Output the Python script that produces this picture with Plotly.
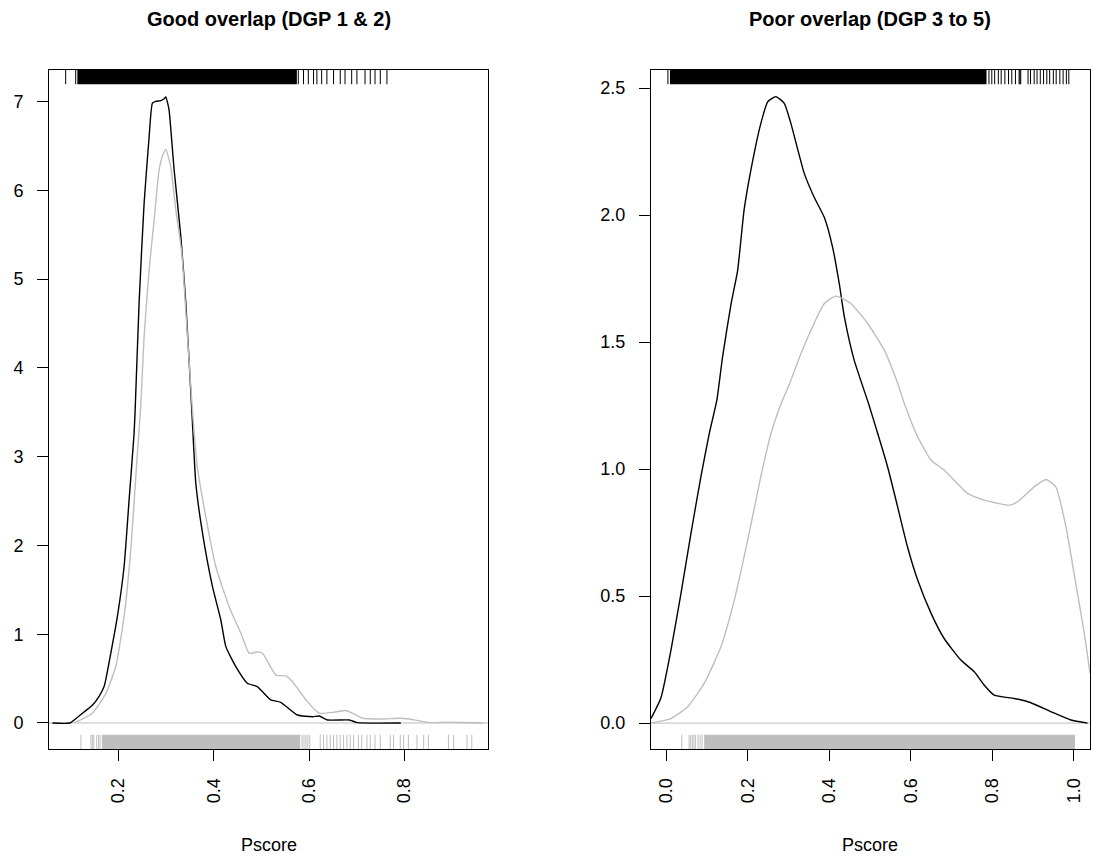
import plotly.graph_objects as go

# ---------------- data ----------------
# Left panel: Good overlap (DGP 1 & 2)
good_black_x = [0.061, 0.0976, 0.124, 0.145, 0.159, 0.1696, 0.1836, 0.1975, 0.2115, 0.222, 0.2325, 0.2347,
                0.243, 0.2535, 0.264, 0.271, 0.278, 0.2885, 0.2955, 0.299, 0.302, 0.306, 0.3165, 0.3305,
                0.341, 0.3536, 0.362, 0.376, 0.397, 0.4145, 0.425, 0.446, 0.470, 0.491, 0.519, 0.540,
                0.575, 0.607, 0.621, 0.638, 0.684, 0.701, 0.792]
good_black_y = [0.0, 0.0, 0.11, 0.20, 0.30, 0.41, 0.785, 1.20, 1.76, 2.51, 3.26, 3.52,
                4.73, 5.85, 6.60, 6.98, 7.00, 7.01, 7.03, 7.05, 7.00, 6.90, 6.23, 5.48,
                4.73, 3.52, 2.70, 2.14, 1.535, 1.16, 0.86, 0.634, 0.447, 0.41, 0.26, 0.233,
                0.09, 0.071, 0.079, 0.034, 0.034, 0.004, 0.0]

good_gray_x = [0.107, 0.145, 0.173, 0.194, 0.2115, 0.2256, 0.2375, 0.2466, 0.2535, 0.264, 0.2745, 0.285,
               0.293, 0.299, 0.3095, 0.320, 0.3326, 0.3445, 0.355, 0.365, 0.383, 0.404, 0.432, 0.4565,
               0.474, 0.491, 0.502, 0.530, 0.551, 0.565, 0.593, 0.621, 0.649, 0.677, 0.6907, 0.7117,
               0.7536, 0.789, 0.81, 0.852, 0.887, 0.9496, 0.965]
good_gray_y = [0.0, 0.11, 0.33, 0.634, 1.20, 1.95, 2.89, 3.58, 4.35, 5.10, 5.66, 6.23,
               6.40, 6.46, 6.26, 5.78, 5.29, 4.35, 3.52, 2.89, 2.32, 1.76, 1.31, 1.01,
               0.785, 0.80, 0.785, 0.54, 0.53, 0.465, 0.26, 0.11, 0.12, 0.14, 0.11, 0.053,
               0.045, 0.053, 0.045, 0.004, 0.008, 0.003, 0.0]

# Right panel: Poor overlap (DGP 3 to 5)
poor_black_x = [-0.0375, -0.013, 0.0115, 0.036, 0.0606, 0.085, 0.1055, 0.124, 0.138, 0.159, 0.175, 0.191,
                0.208, 0.232, 0.249, 0.269, 0.2896, 0.306, 0.3387, 0.363, 0.388, 0.408, 0.4246, 0.437,
                0.461, 0.496, 0.519, 0.543, 0.568, 0.592, 0.617, 0.650, 0.682, 0.723, 0.756, 0.780,
                0.805, 0.854, 0.895, 0.944, 0.993, 1.034]
poor_black_y = [0.018, 0.10, 0.287, 0.51, 0.747, 0.97, 1.14, 1.27, 1.44, 1.65, 1.78, 2.02,
                2.18, 2.36, 2.446, 2.466, 2.44, 2.36, 2.164, 2.07, 1.99, 1.875, 1.73, 1.60,
                1.43, 1.26, 1.14, 1.01, 0.85, 0.694, 0.563, 0.432, 0.333, 0.248, 0.202, 0.15,
                0.11, 0.097, 0.08, 0.045, 0.012, 0.0]

poor_gray_x = [-0.0375, 0.0115, 0.0525, 0.093, 0.134, 0.167, 0.1998, 0.232, 0.257, 0.28, 0.306, 0.3306,
               0.363, 0.388, 0.4165, 0.453, 0.494, 0.535, 0.568, 0.586, 0.617, 0.650, 0.682, 0.7396,
               0.780, 0.842, 0.862, 0.903, 0.932, 0.956, 0.981, 1.005, 1.026, 1.040]
poor_gray_y = [0.0, 0.018, 0.064, 0.156, 0.30, 0.484, 0.72, 0.97, 1.14, 1.25, 1.35, 1.455,
               1.574, 1.652, 1.681, 1.652, 1.574, 1.468, 1.337, 1.25, 1.127, 1.035, 0.996, 0.904,
               0.878, 0.858, 0.871, 0.93, 0.959, 0.93, 0.773, 0.55, 0.353, 0.196]

# Rugs: individual ticks plus spans too dense to separate
good_top_ticks = [0.089, 0.110, 0.577, 0.588, 0.598, 0.609, 0.616, 0.626, 0.637, 0.651, 0.665,
                  0.675, 0.689, 0.700, 0.717, 0.728, 0.738, 0.749, 0.763]
good_top_dense = [(0.1135, 0.574)]
good_bottom_ticks = [0.121, 0.142, 0.145, 0.148, 0.154, 0.158, 0.161, 0.585, 0.589, 0.593, 0.597,
                     0.601, 0.623, 0.630, 0.637, 0.644, 0.651, 0.658, 0.665, 0.672, 0.679, 0.686,
                     0.693, 0.703, 0.710, 0.721, 0.728, 0.738, 0.749, 0.770, 0.777, 0.791, 0.798,
                     0.808, 0.826, 0.840, 0.850, 0.892, 0.903, 0.931, 0.941]
good_bottom_dense = [(0.165, 0.581)]

poor_top_ticks = [0.004, 0.792, 0.799, 0.806, 0.815, 0.822, 0.831, 0.840, 0.848, 0.857, 0.866,
                  0.868, 0.870, 0.888, 0.894, 0.903, 0.910, 0.918, 0.926, 0.934, 0.941, 0.950,
                  0.957, 0.966, 0.974, 0.982, 0.988]
poor_top_dense = [(0.009, 0.786)]
poor_bottom_ticks = [0.038, 0.056, 0.060, 0.064, 0.068, 0.072, 0.078, 0.083, 0.088]
poor_bottom_dense = [(0.093, 1.003)]

titles = ["Good overlap (DGP 1 & 2)", "Poor overlap (DGP 3 to 5)"]
x_label = "Pscore"
good_xticks = [0.2, 0.4, 0.6, 0.8]
good_yticks = [0, 1, 2, 3, 4, 5, 6, 7]
poor_xticks = [0.0, 0.2, 0.4, 0.6, 0.8, 1.0]
poor_yticks = [0.0, 0.5, 1.0, 1.5, 2.0, 2.5]

# ---------------- styling ----------------
BLACK = "#000000"
GRAY = "#BEBEBE"
FONT = "Liberation Sans, Arial, Helvetica, sans-serif"
W, H = 1094, 858
RUG_LEN = 0.021  # fraction of plot height

fig = go.Figure()

line_kw = dict(width=1.4, shape="spline", smoothing=0.5)
fig.add_trace(go.Scatter(x=good_black_x, y=good_black_y, mode="lines",
                         line=dict(color=BLACK, **line_kw), xaxis="x", yaxis="y"))
fig.add_trace(go.Scatter(x=good_gray_x, y=good_gray_y, mode="lines",
                         line=dict(color=GRAY, **line_kw), xaxis="x", yaxis="y"))
fig.add_trace(go.Scatter(x=poor_black_x, y=poor_black_y, mode="lines",
                         line=dict(color=BLACK, **line_kw), xaxis="x2", yaxis="y2"))
fig.add_trace(go.Scatter(x=poor_gray_x, y=poor_gray_y, mode="lines",
                         line=dict(color=GRAY, **line_kw), xaxis="x2", yaxis="y2"))

shapes = []


def rug(ticks, dense, xref, yref, top, color):
    ya, yb = (1 - RUG_LEN, 1) if top else (0, RUG_LEN)
    for t in ticks:
        shapes.append(dict(type="line", xref=xref, yref=yref + " domain", x0=t, x1=t,
                           y0=ya, y1=yb, line=dict(color=color, width=1)))
    for a, b in dense:
        shapes.append(dict(type="rect", xref=xref, yref=yref + " domain", x0=a, x1=b,
                           y0=ya, y1=yb, fillcolor=color, line=dict(width=0)))


for xr, yr in (("x", "y"), ("x2", "y2")):
    shapes.append(dict(type="line", xref=xr + " domain", yref=yr, x0=0, x1=1, y0=0, y1=0,
                       line=dict(color=GRAY, width=1), layer="below"))

rug(good_top_ticks, good_top_dense, "x", "y", True, BLACK)
rug(good_bottom_ticks, good_bottom_dense, "x", "y", False, GRAY)
rug(poor_top_ticks, poor_top_dense, "x2", "y2", True, BLACK)
rug(poor_bottom_ticks, poor_bottom_dense, "x2", "y2", False, GRAY)

left_dom = [49 / W, 488 / W]
right_dom = [651 / W, 1090 / W]
y_dom = [(H - 749) / H, (H - 70) / H]

axis_common = dict(showgrid=False, zeroline=False, showline=True, mirror=True,
                   linecolor=BLACK, linewidth=1, ticks="outside", ticklen=11,
                   tickwidth=1, tickcolor=BLACK, ticklabelstandoff=10,
                   tickfont=dict(family=FONT, size=18, color=BLACK))

title_font = dict(family=FONT, size=20, color=BLACK)
label_font = dict(family=FONT, size=18, color=BLACK)

fig.update_layout(
    width=W, height=H, margin=dict(l=0, r=0, t=0, b=0),
    paper_bgcolor="white", plot_bgcolor="white", showlegend=False,
    font=dict(family=FONT, color=BLACK),
    xaxis=dict(domain=left_dom, range=[0.054, 0.975], anchor="y",
               tickvals=good_xticks, ticktext=[f"{v:.1f}" for v in good_xticks],
               tickangle=-90, **axis_common),
    yaxis=dict(domain=y_dom, range=[-0.293, 7.354], anchor="x",
               tickvals=good_yticks, ticktext=[str(v) for v in good_yticks], **axis_common),
    xaxis2=dict(domain=right_dom, range=[-0.0375, 1.04], anchor="y2",
                tickvals=poor_xticks, ticktext=[f"{v:.1f}" for v in poor_xticks],
                tickangle=-90, **axis_common),
    yaxis2=dict(domain=y_dom, range=[-0.102, 2.571], anchor="x2",
                tickvals=poor_yticks, ticktext=[f"{v:.1f}" for v in poor_yticks], **axis_common),
    shapes=shapes,
    annotations=[
        dict(text=f"<b>{titles[0]}</b>", x=sum(left_dom) / 2, y=(H - 19) / H, xref="paper",
             yref="paper", showarrow=False, xanchor="center", yanchor="middle", font=title_font),
        dict(text=f"<b>{titles[1]}</b>", x=sum(right_dom) / 2, y=(H - 19) / H, xref="paper",
             yref="paper", showarrow=False, xanchor="center", yanchor="middle", font=title_font),
        dict(text=x_label, x=sum(left_dom) / 2, y=(H - 845) / H, xref="paper", yref="paper",
             showarrow=False, xanchor="center", yanchor="middle", font=label_font),
        dict(text=x_label, x=sum(right_dom) / 2, y=(H - 845) / H, xref="paper", yref="paper",
             showarrow=False, xanchor="center", yanchor="middle", font=label_font),
    ],
)

fig.write_html("out.html", config={"displayModeBar": False},
               post_script="document.body.style.margin='0';")
